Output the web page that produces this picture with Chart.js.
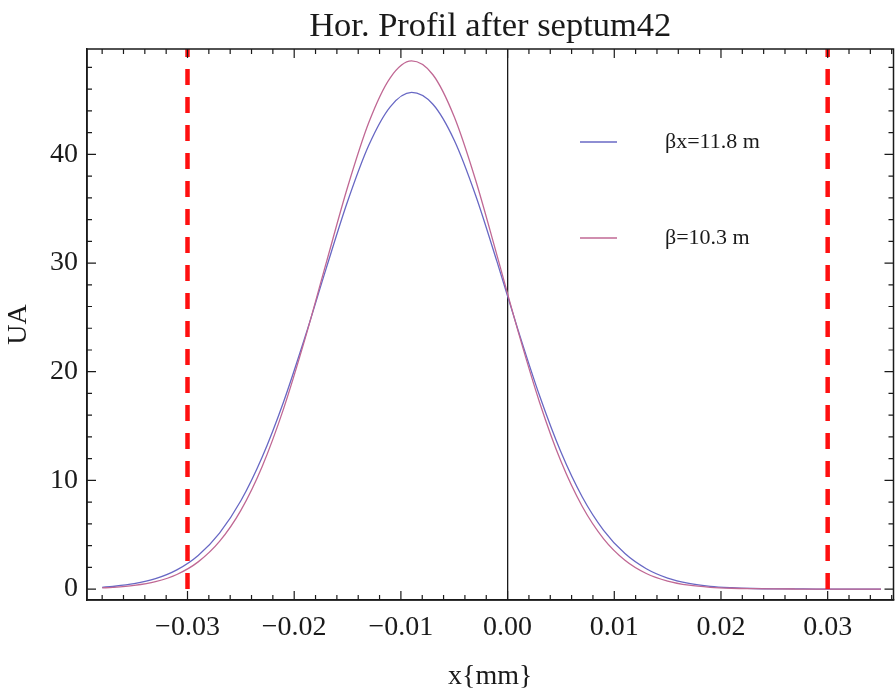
<!DOCTYPE html>
<html>
<head>
<meta charset="utf-8">
<script src="https://cdn.jsdelivr.net/npm/chart.js@4.4.1/dist/chart.umd.min.js"></script>
<style>
  html, body { margin: 0; padding: 0; background: #fff; }
</style>
</head>
<body>
<canvas id="profile" width="895" height="693"></canvas>
<script>
// beam profile samples, x in mm
const xPos = [-0.038, -0.037, -0.035, -0.033, -0.031, -0.029, -0.027, -0.025, -0.023, -0.021,
  -0.019, -0.017, -0.015, -0.013, -0.011, -0.009, -0.007, -0.005, -0.003, -0.001,
  0.001, 0.003, 0.005, 0.007, 0.009, 0.011, 0.013, 0.015, 0.017, 0.019,
  0.021, 0.023, 0.025, 0.027, 0.029, 0.031, 0.033, 0.035];
const profileBx118 = [0.16, 0.24, 0.49, 0.95, 1.76, 3.09, 5.15, 8.12, 12.15, 17.22,
  23.15, 29.51, 35.66, 40.86, 44.38, 45.70, 44.61, 41.30, 36.24, 30.15,
  23.78, 17.78, 12.60, 8.47, 5.40, 3.26, 1.87, 1.01, 0.52, 0.25,
  0.12, 0.05, 0.02, 0.01, 0, 0, 0, 0];
const profileB103 = [0.10, 0.15, 0.33, 0.68, 1.34, 2.50, 4.38, 7.24, 11.28, 16.58,
  22.97, 30.01, 36.98, 42.96, 47.05, 48.60, 47.33, 43.46, 37.64, 30.73,
  23.66, 17.17, 11.75, 7.59, 4.62, 2.65, 1.43, 0.73, 0.35, 0.16,
  0.07, 0.03, 0.01, 0, 0, 0, 0, 0];
const seriesLabels = ['\u03B2x=11.8 m', '\u03B2=10.3 m'];

// septum edges
const septumEdges = [-0.03, 0.03];
const septumSpan = [0, 50];

const xLabelTicks = [-0.03, -0.02, -0.01, 0, 0.01, 0.02, 0.03];
const xSmallTicks = [-0.038, -0.036, -0.034, -0.032, -0.028, -0.026, -0.024, -0.022,
  -0.018, -0.016, -0.014, -0.012, -0.008, -0.006, -0.004, -0.002,
  0.002, 0.004, 0.006, 0.008, 0.012, 0.014, 0.016, 0.018,
  0.022, 0.024, 0.026, 0.028, 0.032, 0.034, 0.036];
const yLabelTicks = [0, 10, 20, 30, 40];
const ySmallTicks = [2, 4, 6, 8, 12, 14, 16, 18, 22, 24, 26, 28, 32, 34, 36, 38, 42, 44, 46, 48];

const SERIF = "'Liberation Serif', 'Times New Roman', serif";
const INK = '#1a1a1a';
const BLUE = '#6868c4';
const PINK = '#c06894';

const fmtX = (v) => (v < 0 ? '\u2212' : '') + Math.abs(v).toFixed(2);

// closed frame with inward ticks on all four sides
const frameTicks = {
  id: 'frameTicks',
  afterDatasetsDraw(chart) {
    const { ctx, chartArea: a, scales: { x, y } } = chart;
    ctx.save();
    ctx.strokeStyle = INK;
    ctx.lineWidth = 1.2;
    ctx.beginPath();
    const xMark = (v, len) => {
      const px = x.getPixelForValue(v);
      ctx.moveTo(px, a.bottom); ctx.lineTo(px, a.bottom - len);
      ctx.moveTo(px, a.top); ctx.lineTo(px, a.top + len);
    };
    const yMark = (v, len) => {
      const py = y.getPixelForValue(v);
      ctx.moveTo(a.left, py); ctx.lineTo(a.left + len, py);
      ctx.moveTo(a.right, py); ctx.lineTo(a.right - len, py);
    };
    xLabelTicks.forEach(v => xMark(v, 9));
    xSmallTicks.forEach(v => xMark(v, 5));
    yLabelTicks.forEach(v => yMark(v, 9));
    ySmallTicks.forEach(v => yMark(v, 5));
    ctx.stroke();
    ctx.lineWidth = 1.5;
    ctx.strokeRect(a.left, a.top, a.right - a.left, a.bottom - a.top);
    ctx.restore();
  }
};

// legend rows: short line sample, then label
const sideLegend = {
  id: 'sideLegend',
  afterDraw(chart) {
    const { ctx, chartArea: a } = chart;
    const rows = chart.data.datasets.filter(d => d.inLegend);
    ctx.save();
    ctx.font = '22px ' + SERIF;
    ctx.textBaseline = 'middle';
    ctx.fillStyle = INK;
    rows.forEach((d, i) => {
      const ly = a.top + 93 + i * 96;
      const lx = a.left + 493;
      ctx.strokeStyle = d.borderColor;
      ctx.lineWidth = 1.3;
      ctx.beginPath();
      ctx.moveTo(lx, ly);
      ctx.lineTo(lx + 37, ly);
      ctx.stroke();
      ctx.fillText(d.label, lx + 85, ly);
    });
    ctx.restore();
  }
};

const toPoints = (ys) => xPos.map((x, i) => ({ x, y: ys[i] }));

const edgeSets = septumEdges.map(e => ({
  label: 'septum',
  data: septumSpan.map(v => ({ x: e, y: v })),
  borderColor: '#ff1010',
  borderWidth: 4.5,
  borderDash: [16, 12],
  pointRadius: 0,
  order: 0
}));

new Chart(document.getElementById('profile'), {
  type: 'line',
  data: {
    datasets: [
      ...edgeSets,
      {
        label: seriesLabels[0],
        inLegend: true,
        data: toPoints(profileBx118),
        borderColor: BLUE,
        borderWidth: 1.3,
        pointRadius: 0,
        cubicInterpolationMode: 'monotone',
        order: 2
      },
      {
        label: seriesLabels[1],
        inLegend: true,
        data: toPoints(profileB103),
        borderColor: PINK,
        borderWidth: 1.3,
        pointRadius: 0,
        cubicInterpolationMode: 'monotone',
        order: 1
      }
    ]
  },
  options: {
    responsive: false,
    devicePixelRatio: 1,
    animation: false,
    layout: { padding: { right: 1.5 } },
    plugins: {
      legend: { display: false },
      tooltip: { enabled: false },
      title: {
        display: true,
        text: 'Hor. Profil after septum42',
        fullSize: false,
        color: INK,
        font: { family: SERIF, size: 34.5, weight: 'normal' },
        padding: { top: 6, bottom: 1.6 }
      }
    },
    scales: {
      x: {
        type: 'linear',
        min: -0.03942,
        max: 0.03617,
        afterBuildTicks: (s) => { s.ticks = xLabelTicks.map(v => ({ value: v })); },
        afterFit: (s) => { s.height = 93; },
        ticks: {
          color: INK,
          padding: 11,
          maxRotation: 0,
          autoSkip: false,
          font: { family: SERIF, size: 28 },
          callback: (v) => fmtX(v)
        },
        grid: {
          drawTicks: false,
          drawOnChartArea: true,
          lineWidth: 1.3,
          color: (c) => (c.tick && c.tick.value === 0 ? INK : 'rgba(0,0,0,0)')
        },
        border: { display: true, color: INK, width: 1.5 },
        title: {
          display: true,
          text: 'x{mm}',
          color: INK,
          font: { family: SERIF, size: 28 },
          padding: { top: 0, bottom: 0 }
        }
      },
      y: {
        type: 'linear',
        min: -1.01,
        max: 49.7,
        afterBuildTicks: (s) => { s.ticks = yLabelTicks.map(v => ({ value: v })); },
        afterFit: (s) => { s.width = 87; },
        ticks: {
          color: INK,
          padding: 9,
          font: { family: SERIF, size: 28 }
        },
        grid: { drawTicks: false, drawOnChartArea: false },
        border: { display: true, color: INK, width: 1.5 },
        title: {
          display: true,
          text: 'UA',
          color: INK,
          font: { family: SERIF, size: 28 },
          padding: { top: 2, bottom: 0 }
        }
      }
    }
  },
  plugins: [frameTicks, sideLegend]
});
</script>
</body>
</html>
